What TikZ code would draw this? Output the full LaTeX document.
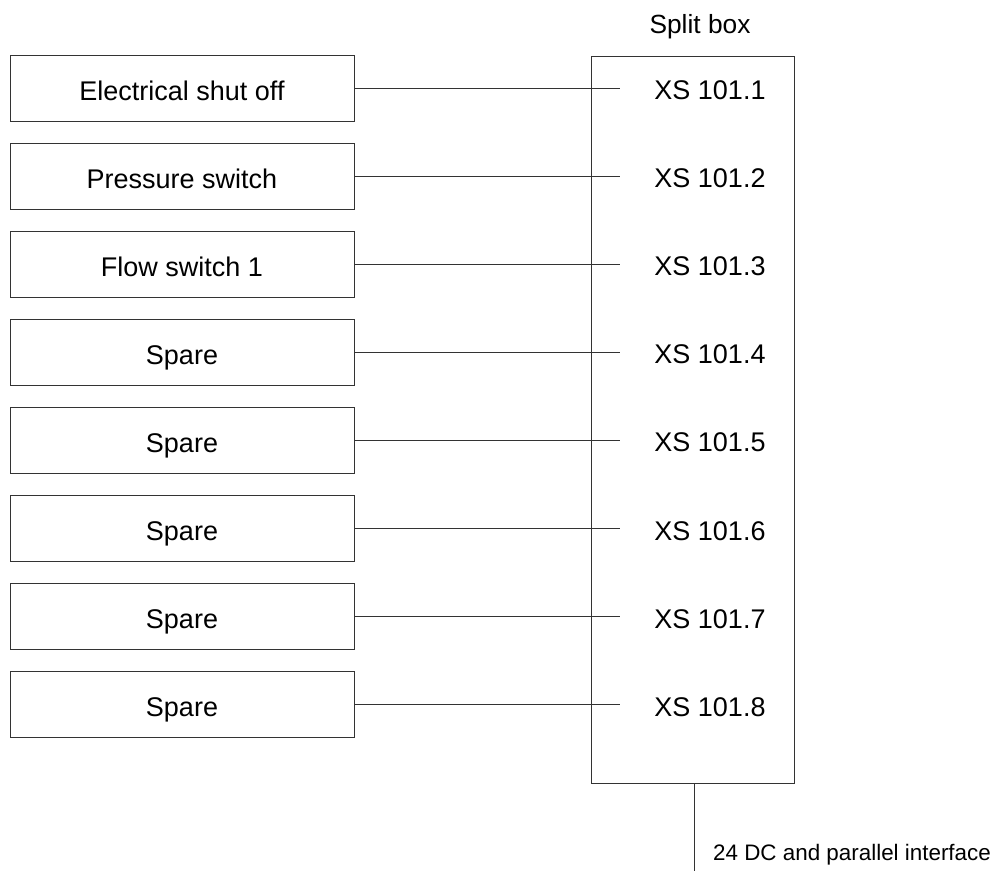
\documentclass[tikz,border=0pt]{standalone}
\usepackage{fontspec}
\setmainfont{Liberation Sans}
\begin{document}
\begin{tikzpicture}[x=1pt,y=-1pt,
  line/.style={draw=black!80,line width=0.9pt},
  devbox/.style={line,rectangle,minimum width=344pt,minimum height=66pt,inner sep=0pt,
    font=\fontsize{27}{30}\selectfont,text height=24.3pt,text depth=0pt},
  xslabel/.style={inner sep=0pt,font=\fontsize{27}{30}\selectfont,text height=23.3pt,text depth=0pt},
  splitbox/.style={line,rectangle,minimum width=203pt,minimum height=727pt,inner sep=0pt}]
\useasboundingbox (0,0) rectangle (995,871);
\node[splitbox] (split) at (692.5,419.5) {};
\node[font=\fontsize{26.3}{30}\selectfont,anchor=base] (title) at (700,33) {Split box};
\foreach \i/\t in {1/Electrical shut off,2/Pressure switch,3/Flow switch 1,4/Spare,5/Spare,6/Spare,7/Spare,8/Spare}{
  \pgfmathsetmacro{\yy}{88+88.07*(\i-1)}
  \node[devbox] (b\i) at (182,\yy) {\t};
  \node[xslabel] (xs\i) at (710,\yy) {XS 101.\i};
  \coordinate (c\i) at (620,\yy);
  \draw[line] (b\i.east) -- (c\i);
}
\coordinate (bot) at (694,871);
\draw[line] (bot |- split.south) -- (bot);
\node[font=\fontsize{22.4}{26}\selectfont,anchor=base west,inner sep=0pt] (iface) at (713,860) {24 DC and parallel interface};
\end{tikzpicture}
\end{document}
